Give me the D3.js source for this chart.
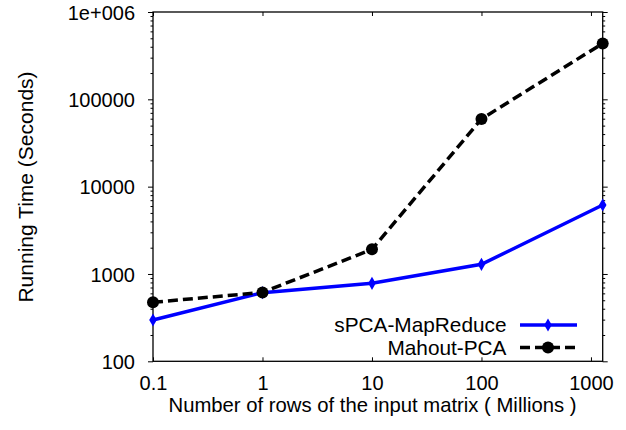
<!DOCTYPE html>
<html><head><meta charset="utf-8">
<script src="https://cdn.jsdelivr.net/npm/d3@7/dist/d3.min.js"></script>
<style>body{margin:0;background:#fff}svg{display:block}text{font-family:"Liberation Sans",Arial,sans-serif;fill:#000}</style>
</head><body>
<script>
const rows = [0.1, 1, 10, 100, 1280];
const spcaValues = [297, 611, 781, 1290, 6170];
const mahoutValues = [474, 615, 1914, 59600, 437000];
const seriesNames = ["sPCA-MapReduce", "Mahout-PCA"];
const xTickValues = [0.1, 1, 10, 100, 1000];
const xTickLabels = ["0.1", "1", "10", "100", "1000"];
const yTickValues = [100, 1000, 10000, 100000, 1000000];
const yTickLabels = ["100", "1000", "10000", "100000", "1e+006"];
const xTitle = "Number of rows of the input matrix ( Millions )";
const yTitle = "Running Time (Seconds)";

const W = 626, H = 430;
const L = 153, R = 602.7, T = 12, B = 361.3;
const svg = d3.select("body").append("svg").attr("width", W).attr("height", H);
const x = d3.scaleLog().domain([0.1, 1280]).range([L, R]);
const y = d3.scaleLog().domain([100, 1000000]).range([B, T]);

// minor y ticks
const minorY = [];
for (let d = 100; d < 1000000; d *= 10) for (let k = 2; k <= 9; k++) minorY.push(d * k);

const g = svg.append("g");
// left axis (ticks outward)
const yAxisL = d3.axisLeft(y).tickValues(yTickValues).tickFormat((d, i) => yTickLabels[i]).tickSize(5).tickPadding(12);
const gl = g.append("g").attr("transform", `translate(${L},0)`).call(yAxisL);
gl.select(".domain").remove();
gl.selectAll("text").attr("font-size", 20).attr("dy", "0.36em").attr("x", -18);
g.append("g").attr("transform", `translate(${L},0)`)
  .call(d3.axisLeft(y).tickValues(minorY).tickFormat("").tickSize(2.5))
  .select(".domain").remove();
// right axis (ticks outward)
g.append("g").attr("transform", `translate(${R},0)`)
  .call(d3.axisRight(y).tickValues(yTickValues).tickFormat("").tickSize(5))
  .select(".domain").remove();
g.append("g").attr("transform", `translate(${R},0)`)
  .call(d3.axisRight(y).tickValues(minorY).tickFormat("").tickSize(2.5))
  .select(".domain").remove();
// bottom axis (ticks inward)
const gb = g.append("g").attr("transform", `translate(0,${B})`)
  .call(d3.axisBottom(x).tickValues(xTickValues).tickFormat((d, i) => xTickLabels[i]).tickSizeInner(-4).tickSizeOuter(0).tickPadding(12));
gb.select(".domain").remove();
gb.selectAll("text").attr("font-size", 20).attr("y", 29).attr("dy", 0);
// top axis (ticks inward)
g.append("g").attr("transform", `translate(0,${T})`)
  .call(d3.axisTop(x).tickValues(xTickValues).tickFormat("").tickSizeInner(-4).tickSizeOuter(0))
  .select(".domain").remove();
g.selectAll(".tick line").attr("stroke", "#000").attr("stroke-width", 1);
// frame
g.append("rect").attr("x", L).attr("y", T).attr("width", R - L).attr("height", B - T)
  .attr("fill", "none").attr("stroke", "#000").attr("stroke-width", 1.3);

// titles
svg.append("text").attr("x", 372.5).attr("y", 412).attr("text-anchor", "middle").attr("font-size", 20.3).text(xTitle);
svg.append("text").attr("transform", `translate(33,187) rotate(-90)`).attr("text-anchor", "middle").attr("font-size", 21).text(yTitle);

const line = d3.line().x(d => x(d[0])).y(d => y(d[1]));
const spca = rows.map((r, i) => [r, spcaValues[i]]);
const mahout = rows.map((r, i) => [r, mahoutValues[i]]);
const diamond = d3.symbol().type(d3.symbolDiamond).size(50);

svg.append("path").datum(spca).attr("d", line).attr("fill", "none").attr("stroke", "#0000ff").attr("stroke-width", 3.5);
svg.selectAll(".sp").data(spca).enter().append("path").attr("transform", d => `translate(${x(d[0])},${y(d[1])})`)
  .attr("d", diamond).attr("fill", "#0000ff");
svg.append("path").datum(mahout).attr("d", line).attr("fill", "none").attr("stroke", "#000").attr("stroke-width", 3.5).attr("stroke-dasharray", "10,5");
svg.selectAll(".mp").data(mahout).enter().append("circle").attr("cx", d => x(d[0])).attr("cy", d => y(d[1])).attr("r", 6).attr("fill", "#000");

// legend
const lg = svg.append("g");
const rowsY = [325, 347.5];
lg.selectAll("text").data(seriesNames).enter().append("text").attr("x", 506.5).attr("y", (d, i) => rowsY[i]).attr("dy", "0.35em")
  .attr("text-anchor", "end").attr("font-size", 20.8).text(d => d);
lg.append("line").attr("x1", 520).attr("x2", 577).attr("y1", rowsY[0]).attr("y2", rowsY[0]).attr("stroke", "#0000ff").attr("stroke-width", 3.5);
lg.append("path").attr("transform", `translate(548,${rowsY[0]})`).attr("d", diamond).attr("fill", "#0000ff");
lg.append("line").attr("x1", 520).attr("x2", 577).attr("y1", rowsY[1]).attr("y2", rowsY[1]).attr("stroke", "#000").attr("stroke-width", 3.5).attr("stroke-dasharray", "10,5");
lg.append("circle").attr("cx", 548).attr("cy", rowsY[1]).attr("r", 6).attr("fill", "#000");
</script>
</body></html>
